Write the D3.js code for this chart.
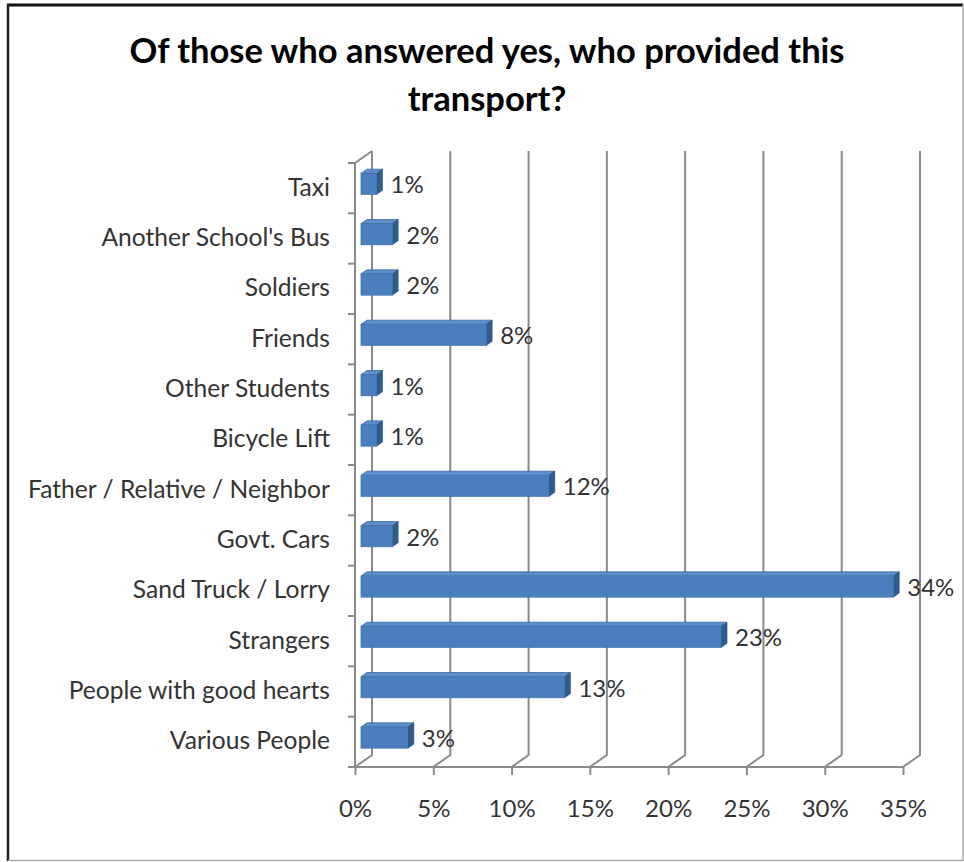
<!DOCTYPE html>
<html>
<head>
<meta charset="utf-8">
<script src="https://cdn.jsdelivr.net/npm/d3@7"></script>
<style>
  html, body { margin: 0; padding: 0; background: #fff; }
  svg { display: block; }
</style>
</head>
<body>
<svg id="chart" width="964" height="862"></svg>
<script>
const categories = ["Taxi", "Another School's Bus", "Soldiers", "Friends", "Other Students", "Bicycle Lift",
  "Father / Relative / Neighbor", "Govt. Cars", "Sand Truck / Lorry", "Strangers", "People with good hearts", "Various People"];
const values = [1, 2, 2, 8, 1, 1, 12, 2, 34, 23, 13, 3];
const tickValues = [0, 5, 10, 15, 20, 25, 30, 35];
const titleLines = ["Of those who answered yes, who provided this", "transport?"];

const svg = d3.select("#chart");
const font = "Lato, 'Open Sans', sans-serif";

// frame
svg.append("rect").attr("x", 0).attr("y", 0).attr("width", 964).attr("height", 862).attr("fill", "#fff");
svg.append("line").attr("x1", 7).attr("x2", 963).attr("y1", 5).attr("y2", 5).attr("stroke", "#111").attr("stroke-width", 3);
svg.append("line").attr("x1", 8).attr("x2", 8).attr("y1", 4).attr("y2", 861).attr("stroke", "#222").attr("stroke-width", 2.5);
svg.append("line").attr("x1", 963).attr("x2", 963).attr("y1", 5).attr("y2", 861).attr("stroke", "#aaa").attr("stroke-width", 1.5);
svg.append("line").attr("x1", 8).attr("x2", 963).attr("y1", 860.5).attr("y2", 860.5).attr("stroke", "#aaa").attr("stroke-width", 1.5);

// title
svg.append("g").selectAll("text").data(titleLines).join("text")
  .attr("x", 487).attr("y", (d, i) => 54 + i * 48)
  .attr("text-anchor", "middle").attr("dominant-baseline", "middle")
  .attr("font-family", font).attr("font-weight", "bold").attr("font-size", 34.5)
  .attr("fill", "#000").text(d => d);

// scales
const x = d3.scaleLinear().domain([0, 35]).range([355, 903]);
const y = d3.scaleBand().domain(categories).range([163, 767]).paddingInner(0.58).paddingOuter(0.29);
const yTop = 163, yBottom = 767;
const DX = 17, DY = -12; // depth projection of walls
const P = (xv, yv, d) => [xv + d * DX, yv + d * DY];

const grid = svg.append("g").attr("stroke", "#8a8a8a").attr("stroke-width", 2).attr("fill", "none");
tickValues.forEach(t => {
  const xf = x(t);
  const b = P(xf, yBottom, 1);
  grid.append("path").attr("d", `M${xf},${yBottom}L${b[0]},${b[1]}L${b[0]},${P(xf, yTop, 1)[1]}`);
});
{
  const b = P(x(0), yTop, 1);
  grid.append("path").attr("d", `M${x(0)},${yTop}L${b[0]},${b[1]}`);
}

// x axis (front)
const xAxisG = svg.append("g").attr("transform", `translate(0,${yBottom})`)
  .call(d3.axisBottom(x).tickValues(tickValues).tickSize(8).tickPadding(40).tickFormat(d => d + "%"));
xAxisG.select(".domain").attr("stroke", "#8a8a8a").attr("stroke-width", 2).attr("d", `M348,0H${x(35)}`);
xAxisG.selectAll(".tick line").attr("stroke", "#8a8a8a").attr("stroke-width", 2);
xAxisG.selectAll(".tick text").attr("font-family", font).attr("font-size", 24).attr("fill", "#333").attr("dy", "0.1em");

// y axis (front)
const yAxisG = svg.append("g").attr("transform", `translate(${x(0)},0)`)
  .call(d3.axisLeft(y).tickSize(0).tickPadding(25));
yAxisG.select(".domain").attr("stroke", "#8a8a8a").attr("stroke-width", 2).attr("d", `M0,${yTop}V${yBottom}`);
yAxisG.selectAll(".tick text").attr("font-family", font).attr("font-size", 24.6).attr("fill", "#333").attr("dy", "0.3em");
const step = y.step();
const bounds = d3.range(categories.length + 1).map(i => yTop + i * step);
svg.append("g").selectAll("line").data(bounds).join("line")
  .attr("x1", x(0) - 7).attr("x2", x(0)).attr("y1", d => d).attr("y2", d => d)
  .attr("stroke", "#8a8a8a").attr("stroke-width", 2);

// 3D bars
const d0 = 0.35, d1 = 0.7;
const bars = svg.append("g");
categories.forEach((c, i) => {
  const v = values[i];
  const yt = y(c), yb = y(c) + y.bandwidth();
  const xl = x(0), xr = x(v);
  const f = (xx, yy, d) => P(xx, yy, d).join(",");
  bars.append("path")
    .attr("d", `M${f(xl, yt, d0)}L${f(xr, yt, d0)}L${f(xr, yt, d1)}L${f(xl, yt, d1)}Z`)
    .attr("fill", "#5d8fcc").attr("stroke", "#3a659b").attr("stroke-width", 0.8);
  bars.append("path")
    .attr("d", `M${f(xr, yt, d0)}L${f(xr, yt, d1)}L${f(xr, yb, d1)}L${f(xr, yb, d0)}Z`)
    .attr("fill", "#2f5b8e").attr("stroke", "#2a527f").attr("stroke-width", 0.6);
  const p = P(xl, yt, d0);
  bars.append("rect")
    .attr("x", p[0]).attr("y", p[1]).attr("width", xr - xl).attr("height", yb - yt)
    .attr("fill", "#4a7ebd").attr("stroke", "#3f70ab").attr("stroke-width", 0.6);
  const lp = P(xr, yt + y.bandwidth() / 2, d1);
  svg.append("text")
    .attr("x", lp[0] + 8).attr("y", y(c) + y.bandwidth() / 2 - 1)
    .attr("dominant-baseline", "middle")
    .attr("font-family", font).attr("font-size", 24).attr("fill", "#333")
    .text(v + "%");
});
</script>
</body>
</html>
